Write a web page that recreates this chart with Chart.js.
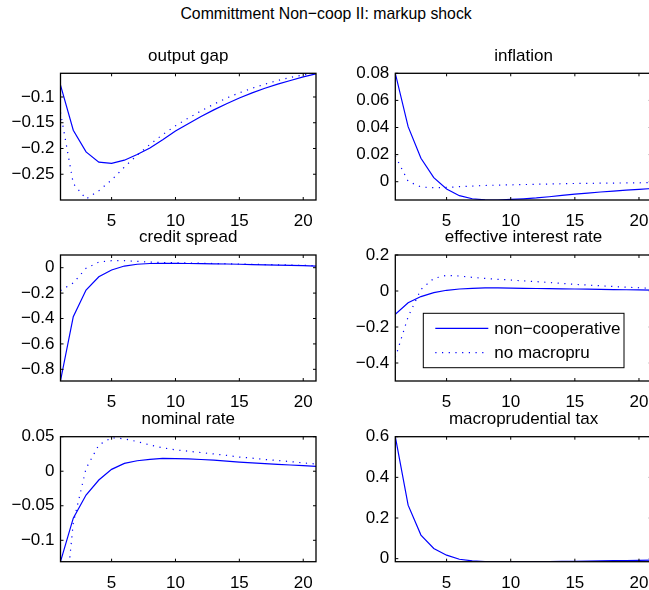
<!DOCTYPE html>
<html>
<head>
<meta charset="utf-8">
<script src="https://cdn.jsdelivr.net/npm/chart.js@4"></script>
<style>
  html, body { margin: 0; padding: 0; background: #fff; }
  body { width: 649px; height: 590px; position: relative; overflow: hidden; font-family: "Liberation Sans", Arial, sans-serif; }
  #figTitle { position: absolute; left: 0; top: 5px; width: 652px; text-align: center; font-size: 17px; line-height: 17px; color: #000; transform: scaleX(0.93); transform-origin: 327px 0; }
  canvas { position: absolute; }
</style>
</head>
<body>
<div id="figTitle">Committment Non−coop II: markup shock</div>
<script>
const periods = [1, 2, 3, 4, 5, 6, 7, 8, 9, 10, 11, 12, 13, 14, 15, 16, 17, 18, 19, 20, 21];
const xTicks = [5, 10, 15, 20];

const outputGapNonCoop = [-0.077, -0.1645, -0.2066, -0.2266, -0.229, -0.2227, -0.2118, -0.199, -0.183, -0.166, -0.152, -0.138, -0.125, -0.113, -0.102, -0.092, -0.083, -0.075, -0.068, -0.061, -0.055];
const outputGapNoMacro = [-0.13, -0.268, -0.298, -0.282, -0.261, -0.236, -0.213, -0.192, -0.173, -0.156, -0.141, -0.127, -0.114, -0.102, -0.092, -0.083, -0.075, -0.068, -0.062, -0.057, -0.054];
const outputGapTicks = [-0.25, -0.2, -0.15, -0.1];

const inflationNonCoop = [0.08, 0.0406, 0.0173, 0.003, -0.0054, -0.0103, -0.0126, -0.0134, -0.0135, -0.0131, -0.0126, -0.012, -0.0111, -0.0101, -0.0092, -0.0084, -0.0076, -0.0069, -0.0062, -0.0056, -0.005];
const inflationNoMacro = [0.019, 0.0003, -0.0039, -0.0044, -0.0042, -0.0037, -0.0032, -0.0028, -0.0025, -0.0023, -0.0021, -0.0019, -0.0017, -0.0015, -0.0013, -0.0012, -0.0011, -0.001, -0.0009, -0.0008, -0.0007];
const inflationTicks = [0, 0.02, 0.04, 0.06, 0.08];

const creditSpreadNonCoop = [-0.89, -0.386, -0.176, -0.071, -0.018, 0.013, 0.027, 0.033, 0.035, 0.034, 0.033, 0.032, 0.03, 0.029, 0.027, 0.025, 0.023, 0.021, 0.019, 0.016, 0.013];
const creditSpreadNoMacro = [-0.18, -0.12, -0.005, 0.045, 0.055, 0.055, 0.05, 0.044, 0.041, 0.039, 0.037, 0.035, 0.033, 0.031, 0.029, 0.027, 0.025, 0.023, 0.021, 0.018, 0.016];
const creditSpreadTicks = [-0.8, -0.6, -0.4, -0.2, 0];

const effRateNonCoop = [-0.13, -0.065, -0.031, -0.009, 0.004, 0.011, 0.015, 0.017, 0.017, 0.016, 0.015, 0.014, 0.013, 0.012, 0.011, 0.01, 0.009, 0.008, 0.007, 0.006, 0.005];
const effRateNoMacro = [-0.37, -0.143, 0.009, 0.07, 0.087, 0.083, 0.076, 0.07, 0.065, 0.061, 0.056, 0.052, 0.047, 0.042, 0.037, 0.033, 0.029, 0.025, 0.021, 0.018, 0.015];
const effRateTicks = [-0.4, -0.2, 0, 0.2];

const nominalRateNonCoop = [-0.131, -0.068, -0.0345, -0.0127, 0.0027, 0.0114, 0.0152, 0.0172, 0.0185, 0.0183, 0.018, 0.017, 0.016, 0.0145, 0.0133, 0.0122, 0.011, 0.0099, 0.009, 0.008, 0.007];
const nominalRateNoMacro = [-0.26, -0.075, 0.004, 0.038, 0.0485, 0.047, 0.043, 0.038, 0.034, 0.031, 0.029, 0.027, 0.025, 0.023, 0.0205, 0.019, 0.017, 0.0155, 0.014, 0.012, 0.0105];
const nominalRateTicks = [-0.1, -0.05, 0, 0.05];

const macroTaxNonCoop = [0.6, 0.263, 0.116, 0.05, 0.017, -0.003, -0.011, -0.014, -0.015, -0.015, -0.015, -0.0145, -0.014, -0.0135, -0.013, -0.012, -0.011, -0.01, -0.009, -0.008, -0.007];
const macroTaxTicks = [0, 0.2, 0.4, 0.6];

const seriesNames = ['non−cooperative', 'no macropru'];

const panels = [
  { title: 'output gap', row: 0, col: 0, lines: [outputGapNonCoop, outputGapNoMacro], yMin: -0.3, yMax: -0.054, yTicks: outputGapTicks },
  { title: 'inflation', row: 0, col: 1, lines: [inflationNonCoop, inflationNoMacro], yMin: -0.0135, yMax: 0.08, yTicks: inflationTicks },
  { title: 'credit spread', row: 1, col: 0, lines: [creditSpreadNonCoop, creditSpreadNoMacro], yMin: -0.892, yMax: 0.1, yTicks: creditSpreadTicks },
  { title: 'effective interest rate', row: 1, col: 1, lines: [effRateNonCoop, effRateNoMacro], yMin: -0.5, yMax: 0.2, yTicks: effRateTicks, legend: true },
  { title: 'nominal rate', row: 2, col: 0, lines: [nominalRateNonCoop, nominalRateNoMacro], yMin: -0.131, yMax: 0.05, yTicks: nominalRateTicks },
  { title: 'macroprudential tax', row: 2, col: 1, lines: [macroTaxNonCoop], yMin: -0.015, yMax: 0.6, yTicks: macroTaxTicks }
];

// subplot geometry (axes box in page pixels)
const colLeft = [60.5, 395.3];
const colWidth = [255.5, 256.5];
const canvasLeft = [0, 330];
const rowTop = [73.3, 255, 436.7];
const rowHeight = [126.7, 126, 125];

const FONT = '"Liberation Sans", Arial, Helvetica, sans-serif';
const FONT_SIZE = 17;
const lineStyles = [
  { borderColor: '#0000ff', borderWidth: 1.2, borderDash: [] },
  { borderColor: '#0000ff', borderWidth: 1.2, borderDash: [1.2, 5.5] }
];

// matlab-style box with inward ticks on all four sides
const axesBox = {
  id: 'axesBox',
  afterDraw(chart) {
    const { ctx, chartArea: a, scales: { x, y } } = chart;
    const len = 3;
    ctx.save();
    ctx.strokeStyle = '#000';
    ctx.lineWidth = 1;
    ctx.beginPath();
    x.ticks.forEach(t => {
      const px = x.getPixelForValue(t.value);
      ctx.moveTo(px, a.bottom); ctx.lineTo(px, a.bottom - len);
      ctx.moveTo(px, a.top); ctx.lineTo(px, a.top + len);
    });
    y.ticks.forEach(t => {
      const py = y.getPixelForValue(t.value);
      ctx.moveTo(a.left, py); ctx.lineTo(a.left + len, py);
      ctx.moveTo(a.right, py); ctx.lineTo(a.right - len, py);
    });
    ctx.stroke();
    ctx.lineWidth = 1.3;
    ctx.strokeRect(a.left, a.top, a.right - a.left, a.bottom - a.top);
    ctx.restore();
  }
};

// legend drawn inside the axes
const insetLegend = {
  id: 'insetLegend',
  afterDraw(chart, args, opts) {
    if (!opts.display) return;
    const { ctx, chartArea: a } = chart;
    const x0 = a.left + opts.left, y0 = a.top + opts.top;
    ctx.save();
    ctx.fillStyle = '#fff';
    ctx.fillRect(x0, y0, opts.width, opts.height);
    ctx.strokeStyle = '#000';
    ctx.lineWidth = 1;
    ctx.strokeRect(x0, y0, opts.width, opts.height);
    ctx.font = FONT_SIZE + 'px ' + FONT;
    ctx.textBaseline = 'middle';
    ctx.textAlign = 'left';
    chart.data.datasets.forEach((ds, i) => {
      const yy = y0 + 15 + i * 24.4;
      ctx.strokeStyle = ds.borderColor;
      ctx.lineWidth = ds.borderWidth;
      ctx.setLineDash(ds.borderDash);
      ctx.beginPath();
      ctx.moveTo(x0 + 12, yy);
      ctx.lineTo(x0 + 65, yy);
      ctx.stroke();
      ctx.setLineDash([]);
      ctx.fillStyle = '#000';
      ctx.fillText(ds.label, x0 + 71, yy + 1);
    });
    ctx.restore();
  }
};

const minus = v => String(v).replace('-', '\u2212');

panels.forEach(p => {
  const cl = canvasLeft[p.col];
  const ct = Math.round(rowTop[p.row]) - 34;
  const padL = colLeft[p.col] - cl;
  const padT = rowTop[p.row] - ct;
  const w = Math.ceil(padL + colWidth[p.col] + 16);
  const h = Math.ceil(padT + rowHeight[p.row] + 36);
  const padR = w - padL - colWidth[p.col];
  const padB = h - padT - rowHeight[p.row];

  const canvas = document.createElement('canvas');
  canvas.width = w;
  canvas.height = h;
  canvas.style.left = cl + 'px';
  canvas.style.top = ct + 'px';
  canvas.style.width = w + 'px';
  canvas.style.height = h + 'px';
  document.body.appendChild(canvas);

  new Chart(canvas.getContext('2d'), {
    type: 'line',
    data: {
      datasets: p.lines.map((vals, i) => ({
        label: seriesNames[i],
        data: periods.map((t, k) => ({ x: t, y: vals[k] })),
        borderColor: lineStyles[i].borderColor,
        borderWidth: lineStyles[i].borderWidth,
        borderDash: lineStyles[i].borderDash,
        pointRadius: 0,
        tension: 0,
        fill: false
      }))
    },
    options: {
      responsive: false,
      devicePixelRatio: 1,
      animation: false,
      events: [],
      layout: { padding: { left: 0, right: padR, top: 0, bottom: 0 } },
      plugins: {
        legend: { display: false },
        tooltip: { enabled: false },
        title: {
          display: true,
          text: p.title,
          fullSize: false,
          color: '#000',
          font: { family: FONT, size: FONT_SIZE, weight: 'normal', lineHeight: 1.2 },
          padding: { top: padT - FONT_SIZE * 1.2 - 7, bottom: 7 }
        },
        insetLegend: { display: !!p.legend, left: 28, top: 58.3, width: 200.7, height: 54.4 }
      },
      scales: {
        x: {
          type: 'linear',
          min: 1,
          max: 21,
          grid: { display: false, drawTicks: false },
          border: { display: false },
          ticks: { color: '#000', padding: 11, font: { family: FONT, size: FONT_SIZE } },
          afterBuildTicks: s => { s.ticks = xTicks.map(v => ({ value: v })); },
          afterFit: s => { s.height = padB; s.paddingLeft = 0; s.paddingRight = 0; }
        },
        y: {
          min: p.yMin,
          max: p.yMax,
          grid: { display: false, drawTicks: false },
          border: { display: false },
          ticks: { color: '#000', padding: 6, font: { family: FONT, size: FONT_SIZE }, callback: v => minus(v) },
          afterBuildTicks: s => { s.ticks = p.yTicks.map(v => ({ value: v })); },
          afterFit: s => { s.width = padL; s.paddingTop = 0; s.paddingBottom = 0; }
        }
      }
    },
    plugins: [axesBox, insetLegend]
  });
});
</script>
</body>
</html>
